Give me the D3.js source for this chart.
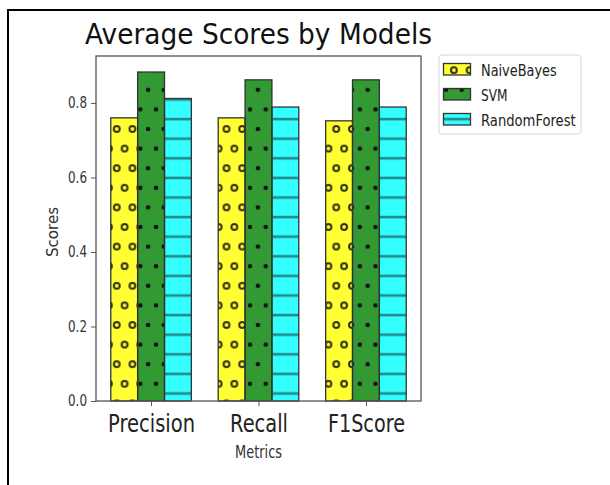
<!DOCTYPE html>
<html>
<head>
<meta charset="utf-8">
<script src="https://cdn.jsdelivr.net/npm/d3@7"></script>
<style>
    body { margin: 0; background: #fff; }
    svg { display: block; font-family: "DejaVu Sans", sans-serif; }
</style>
</head>
<body>
<div id="chart"></div>
<script>
"use strict";

const metrics = ["Precision", "Recall", "F1Score"];
const models = ["NaiveBayes", "SVM", "RandomForest"];
const naiveBayes = [0.760, 0.760, 0.752];
const svm = [0.883, 0.862, 0.862];
const randomForest = [0.812, 0.789, 0.789];
const yTicks = [0.0, 0.2, 0.4, 0.6, 0.8];

const FILLS = ["#ffff33", "#339933", "#33ffff"];
const HATCHES = ["hatch-o", "hatch-dot", "hatch-line"];
const EDGE = "#333";

const width = 610, height = 485;
const svg = d3.select("#chart").append("svg").attr("width", width).attr("height", height);

// hatch patterns, aligned on the page like matplotlib does
const defs = svg.append("defs");
const HW = 15.68, HH = 39.2;
function circlePattern(id, filled) {
    const p = defs.append("pattern").attr("id", id)
        .attr("patternUnits", "userSpaceOnUse")
        .attr("x", 3.08).attr("y", 1.6).attr("width", HW).attr("height", HH);
    [[HW / 4, HH / 4], [3 * HW / 4, 3 * HH / 4]].forEach(function (c) {
        const e = p.append("circle").attr("cx", c[0]).attr("cy", c[1]);
        if (filled) {
            e.attr("r", 2.3).attr("fill", "#111");
        } else {
            e.attr("r", 2.9).attr("fill", "none").attr("stroke", "#2e2e10").attr("stroke-width", 2);
        }
    });
}
circlePattern("hatch-o", false);
circlePattern("hatch-dot", true);
const lp = defs.append("pattern").attr("id", "hatch-line")
    .attr("patternUnits", "userSpaceOnUse")
    .attr("x", 0).attr("y", -8.4).attr("width", 10).attr("height", 19.6);
lp.append("rect").attr("x", 0).attr("y", 8.6).attr("width", 10).attr("height", 2.6)
    .attr("fill", "#22898a");

// outer frame (top and left edge only)
svg.append("line").attr("x1", 7).attr("x2", width).attr("y1", 10).attr("y2", 10)
    .attr("stroke", "#000").attr("stroke-width", 2);
svg.append("line").attr("x1", 8).attr("x2", 8).attr("y1", 9).attr("y2", height)
    .attr("stroke", "#000").attr("stroke-width", 2);

const plot = {left: 96, right: 421, top: 56, bottom: 401};
const x = d3.scaleLinear().domain([-0.5125, 2.5125]).range([plot.left, plot.right]);
const y = d3.scaleLinear().domain([0, 0.926]).range([plot.bottom, plot.top]);
const barW = 0.25;

const series = [naiveBayes, svm, randomForest];
const bars = [];
series.forEach(function (vals, s) {
    vals.forEach(function (v, i) {
        bars.push({s: s, i: i, v: v});
    });
});

const g = svg.append("g");
function barX(d) { return x(d.i + (d.s - 1) * barW - barW / 2); }
function barWidth() { return x(barW) - x(0); }
g.selectAll(".bar-base").data(bars).enter().append("rect")
    .attr("class", "bar-base")
    .attr("x", barX).attr("width", barWidth)
    .attr("y", function (d) { return y(d.v); })
    .attr("height", function (d) { return y(0) - y(d.v); })
    .attr("fill", function (d) { return FILLS[d.s]; });
g.selectAll(".bar-hatch").data(bars).enter().append("rect")
    .attr("class", "bar-hatch")
    .attr("x", barX).attr("width", barWidth)
    .attr("y", function (d) { return y(d.v); })
    .attr("height", function (d) { return y(0) - y(d.v); })
    .attr("fill", function (d) { return "url(#" + HATCHES[d.s] + ")"; })
    .attr("stroke", EDGE).attr("stroke-width", 1.3);

// axes box
svg.append("rect").attr("x", plot.left).attr("y", plot.top)
    .attr("width", plot.right - plot.left).attr("height", plot.bottom - plot.top)
    .attr("fill", "none").attr("stroke", "#555").attr("stroke-width", 1.3);

const yAxis = svg.append("g").attr("transform", "translate(" + plot.left + ",0)")
    .call(d3.axisLeft(y).tickValues(yTicks).tickFormat(d3.format(".1f")).tickSize(5).tickPadding(4));
yAxis.select(".domain").remove();
yAxis.selectAll("line").attr("stroke", "#555");
yAxis.selectAll("text").attr("font-size", 15).attr("fill", "#333")
    .attr("font-family", "DejaVu Sans")
    .attr("textLength", 19).attr("lengthAdjust", "spacingAndGlyphs");

const xAxis = svg.append("g").attr("transform", "translate(0," + plot.bottom + ")")
    .call(d3.axisBottom(x).tickValues([0, 1, 2]).tickFormat(function (d) { return metrics[d]; })
        .tickSize(5).tickPadding(6));
xAxis.select(".domain").remove();
xAxis.selectAll("line").attr("stroke", "#555");
const xLabelWidths = [87, 58, 77];
xAxis.selectAll("text").attr("font-size", 25).attr("fill", "#222")
    .attr("font-family", "DejaVu Sans")
    .attr("dy", null).attr("y", 31)
    .attr("textLength", function (d) { return xLabelWidths[d]; })
    .attr("lengthAdjust", "spacingAndGlyphs");

// title and axis labels
svg.append("text").attr("x", 258.5).attr("y", 44.3).attr("text-anchor", "middle")
    .attr("font-size", 28.5).attr("fill", "#111")
    .attr("textLength", 347).attr("lengthAdjust", "spacingAndGlyphs")
    .text("Average Scores by Models");
svg.append("text").attr("x", 258.5).attr("y", 457.5).attr("text-anchor", "middle")
    .attr("font-size", 17).attr("fill", "#333")
    .attr("textLength", 47).attr("lengthAdjust", "spacingAndGlyphs")
    .text("Metrics");
svg.append("text").attr("transform", "translate(58.3,232) rotate(-90)").attr("text-anchor", "middle")
    .attr("font-size", 16).attr("fill", "#333")
    .attr("textLength", 50).attr("lengthAdjust", "spacingAndGlyphs")
    .text("Scores");

// legend
const legend = svg.append("g");
legend.append("rect").attr("x", 439).attr("y", 55).attr("width", 142).attr("height", 79)
    .attr("rx", 3).attr("fill", "#fff").attr("stroke", "#d8d8d8");
const legendWidths = [75.7, 26.5, 94.7];
const items = legend.selectAll(".item").data(models).enter().append("g")
    .attr("class", "item");
items.append("rect").attr("x", 443.5).attr("width", 27)
    .attr("y", function (d, i) { return 63.5 + i * 25; }).attr("height", 11.5)
    .attr("fill", function (d, i) { return FILLS[i]; });
items.append("rect").attr("x", 443.5).attr("width", 27)
    .attr("y", function (d, i) { return 63.5 + i * 25; }).attr("height", 11.5)
    .attr("fill", function (d, i) { return "url(#" + HATCHES[i] + ")"; })
    .attr("stroke", EDGE).attr("stroke-width", 1.3);
items.append("text").attr("x", 481)
    .attr("y", function (d, i) { return 76 + i * 25; })
    .attr("font-size", 15).attr("fill", "#222")
    .attr("textLength", function (d, i) { return legendWidths[i]; })
    .attr("lengthAdjust", "spacingAndGlyphs")
    .text(function (d) { return d; });
</script>
</body>
</html>
